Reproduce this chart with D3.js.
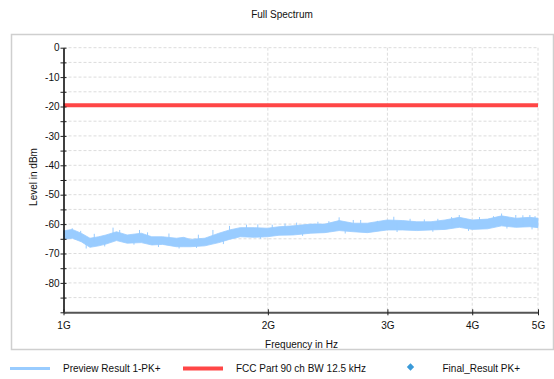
<!DOCTYPE html>
<html lang="en">
<head>
<meta charset="UTF-8">
<title>Full Spectrum</title>
<script src="https://d3js.org/d3.v7.min.js"></script>
<style>
    body { margin: 0; background: #fff; }
    text { font-family: "Liberation Sans", Arial, sans-serif; font-size: 10px; fill: #111; }
    .grid line { stroke: #dcdcdc; stroke-dasharray: 3,2; }
</style>
</head>
<body>
<script>
    var width = 554, height = 379;

    var freqs = [1.000, 1.030, 1.062, 1.094, 1.127, 1.155, 1.197, 1.241, 1.302, 1.349,
                 1.399, 1.467, 1.503, 1.539, 1.615, 1.694, 1.756, 1.821, 1.910, 1.997,
                 2.077, 2.179, 2.314, 2.427, 2.547, 2.672, 2.803, 2.998, 3.160, 3.315,
                 3.478, 3.648, 3.828, 4.001, 4.213, 4.419, 4.637, 4.864, 5.000];
    // upper and lower edge of the noisy preview trace, dBm
    var traceTop = [-62.3, -61.8, -63.1, -64.8, -64.3, -63.7, -62.6, -63.7, -63.1, -64.3,
                    -64.3, -64.8, -64.5, -65.2, -64.8, -63.1, -62.0, -61.2, -61.2, -61.4,
                    -60.9, -60.6, -60.0, -60.0, -58.8, -59.7, -59.7, -58.6, -58.8, -59.2,
                    -59.2, -58.6, -57.7, -58.6, -58.3, -57.2, -58.0, -57.7, -58.0];
    var traceBottom = [-65.2, -64.8, -66.0, -67.9, -67.4, -66.8, -65.6, -66.5, -66.3, -67.1,
                       -66.9, -67.7, -67.7, -67.7, -67.4, -66.3, -65.2, -64.3, -64.5, -64.3,
                       -63.8, -63.7, -63.1, -62.9, -62.2, -62.6, -62.9, -62.0, -62.0, -62.2,
                       -62.0, -61.8, -61.1, -61.8, -61.6, -60.6, -61.1, -60.9, -61.2];
    // single spikes above the band
    var spikeFreqs = [1.030, 1.060, 1.110, 1.183, 1.210, 1.294, 1.330, 1.430, 1.580, 1.660,
                      1.756, 1.860, 1.933, 2.030, 2.120, 2.205, 2.370, 2.460, 2.547, 2.672,
                      2.740, 2.900, 3.066, 3.240, 3.400, 3.560, 3.730, 3.828, 4.100, 4.300,
                      4.419, 4.637, 4.750, 4.864, 4.950];
    var spikeLevels = [-61.4, -62.3, -63.3, -61.2, -62.0, -62.0, -62.8, -63.2, -63.6, -62.0,
                       -60.6, -60.2, -60.1, -60.2, -59.8, -59.5, -59.2, -59.0, -57.7, -58.6,
                       -58.6, -58.9, -57.5, -58.2, -58.4, -58.2, -57.6, -56.9, -57.6, -57.3,
                       -56.4, -56.9, -57.0, -56.9, -57.3];
    // single dips below the band
    var dipFreqs = [1.080, 1.150, 1.270, 1.380, 1.480, 1.570, 1.720, 1.950, 2.250, 2.600,
                    3.100, 3.500, 3.950, 4.500, 4.900];
    var dipLevels = [-68.3, -67.6, -67.0, -67.8, -68.3, -68.1, -66.8, -65.0, -64.0, -63.2,
                     -62.7, -62.6, -62.3, -61.5, -61.8];

    var limitLevel = -19.6;
    var xTicks = [1, 2, 3, 4, 5];
    var yTicks = [0, -10, -20, -30, -40, -50, -60, -70, -80];
    var legendNames = ["Preview Result 1-PK+", "FCC Part 90 ch BW 12.5 kHz", "Final_Result PK+"];

    var blue = "#99ccff", red = "#ff4646", dot = "#3a9ad9";

    var svg = d3.select("body").append("svg")
        .attr("width", width)
        .attr("height", height);

    svg.append("rect").attr("width", width).attr("height", height).attr("fill", "#fff");

    var x = d3.scaleLog().domain([1, 5]).range([63.5, 538]);
    var y = d3.scaleLinear().domain([-90, 0]).range([312.3, 47.7]);

    // title + frame
    svg.append("text")
        .attr("x", 282).attr("y", 18)
        .attr("text-anchor", "middle")
        .text("Full Spectrum");

    svg.append("rect")
        .attr("x", 11.5).attr("y", 34.5)
        .attr("width", 542).attr("height", 315)
        .attr("fill", "none")
        .attr("stroke", "#cfcfcf")
        .attr("stroke-width", 1.5);

    // grid
    var grid = svg.append("g").attr("class", "grid");
    grid.selectAll(".h").data(d3.range(-85, 1, 5))
        .enter().append("line")
        .attr("x1", x(1)).attr("x2", x(5))
        .attr("y1", function(d) { return y(d); })
        .attr("y2", function(d) { return y(d); });
    grid.selectAll(".v").data(xTicks.slice(1))
        .enter().append("line")
        .attr("y1", y(0)).attr("y2", y(-90))
        .attr("x1", function(d) { return x(d); })
        .attr("x2", function(d) { return x(d); });

    // limit line
    svg.append("line")
        .attr("x1", x(1)).attr("x2", x(5))
        .attr("y1", y(limitLevel)).attr("y2", y(limitLevel))
        .attr("stroke", red)
        .attr("stroke-width", 4);

    // preview trace band
    var band = freqs.map(function(f, i) {
        return {f: f, top: traceTop[i], bottom: traceBottom[i]};
    });
    svg.append("path")
        .datum(band)
        .attr("fill", blue)
        .attr("stroke", blue)
        .attr("stroke-width", 0.8)
        .attr("d", d3.area()
            .x(function(d) { return x(d.f); })
            .y0(function(d) { return y(d.bottom); })
            .y1(function(d) { return y(d.top); }));

    svg.selectAll(".spike")
        .data(spikeFreqs)
        .enter().append("line")
        .attr("class", "spike")
        .attr("stroke", blue)
        .attr("stroke-width", 1)
        .attr("x1", function(d) { return x(d); })
        .attr("x2", function(d) { return x(d); })
        .attr("y1", function(d, i) { return y(spikeLevels[i]); })
        .attr("y2", function(d, i) { return y(spikeLevels[i] - 3); });

    svg.selectAll(".dip")
        .data(dipFreqs)
        .enter().append("line")
        .attr("class", "dip")
        .attr("stroke", blue)
        .attr("stroke-width", 1)
        .attr("x1", function(d) { return x(d); })
        .attr("x2", function(d) { return x(d); })
        .attr("y1", function(d, i) { return y(dipLevels[i]); })
        .attr("y2", function(d, i) { return y(dipLevels[i] + 3); });

    // axes
    var yAxis = svg.append("g")
        .attr("transform", "translate(" + x(1) + ",0)")
        .call(d3.axisLeft(y)
            .tickValues(d3.range(-90, 1, 5))
            .tickSizeInner(3).tickSizeOuter(0).tickPadding(1)
            .tickFormat(function(d) { return yTicks.indexOf(d) >= 0 ? String(d) : ""; }));
    yAxis.select(".domain").attr("stroke", "#000").attr("stroke-width", 1.5);
    yAxis.selectAll(".tick line").attr("x1", -3).attr("x2", 3).attr("stroke", "#222");
    yAxis.selectAll("text").attr("font-size", 10).attr("font-family", null);

    var xAxis = svg.append("g")
        .attr("transform", "translate(0," + y(-90) + ")")
        .call(d3.axisBottom(x)
            .tickValues(xTicks)
            .tickSizeInner(3).tickSizeOuter(0).tickPadding(7)
            .tickFormat(function(d) { return d + "G"; }));
    xAxis.select(".domain").attr("stroke", "#555").attr("stroke-width", 2);
    xAxis.selectAll(".tick line").attr("y1", -3).attr("y2", 3).attr("stroke", "#222");
    xAxis.selectAll("text").attr("font-size", 10).attr("font-family", null);

    svg.append("text")
        .attr("transform", "translate(36.5,177) rotate(-90)")
        .attr("text-anchor", "middle")
        .text("Level in dBm");

    svg.append("text")
        .attr("x", 301.5).attr("y", 347.5)
        .attr("text-anchor", "middle")
        .text("Frequency in Hz");

    // legend
    var legend = svg.append("g").attr("transform", "translate(0,368.5)");
    legend.append("line").attr("x1", 10).attr("x2", 50).attr("stroke", blue).attr("stroke-width", 3);
    legend.append("line").attr("x1", 183).attr("x2", 223).attr("stroke", red).attr("stroke-width", 4);
    legend.append("path")
        .attr("transform", "translate(410.5,-1.5) rotate(45)")
        .attr("d", "M-2.6,-2.6h5.2v5.2h-5.2z")
        .attr("fill", dot);
    legend.selectAll(".lt")
        .data(legendNames)
        .enter().append("text")
        .attr("x", function(d, i) { return [63, 236, 442.5][i]; })
        .attr("y", 3.5)
        .text(function(d) { return d; });
</script>
</body>
</html>
